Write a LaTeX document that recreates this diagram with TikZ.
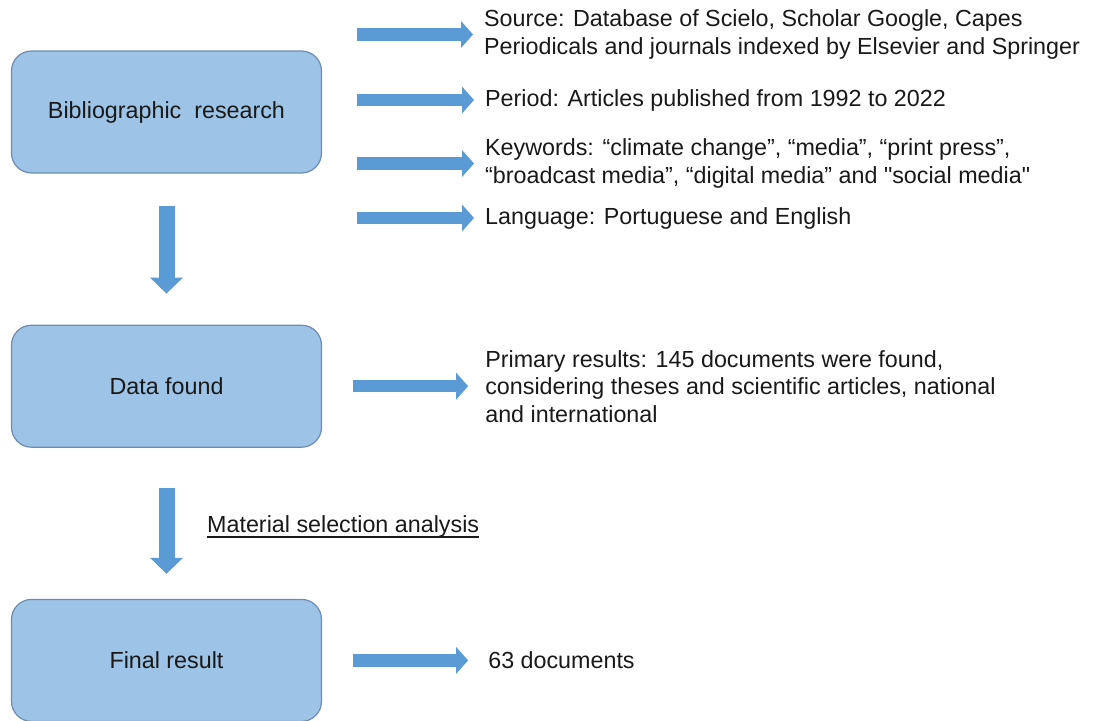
\documentclass[tikz,border=0pt]{standalone}
\usepackage{fontspec}
\setmainfont{Liberation Sans}[Ligatures=TeXOff]
\usetikzlibrary{positioning}
\usetikzlibrary{arrows.meta}

\definecolor{boxfill}{RGB}{157,195,230}
\definecolor{boxline}{RGB}{110,140,175}
\definecolor{arrowblue}{RGB}{91,155,213}

\newcommand{\thickul}[1]{\setbox0\hbox{#1}\rlap{\rule[-5pt]{\wd0}{1.8pt}}\box0}

\begin{document}
\begin{tikzpicture}[x=1pt,y=-1pt,node distance=151pt,
	stage node/.style={rectangle,rounded corners=20pt,draw=boxline,line width=1.2pt,fill=boxfill,minimum width=310pt,minimum height=122pt,text=black!90,font=\fontsize{23.3}{27.5}\selectfont},
	info node/.style={anchor=west,align=left,inner sep=0pt,text=black!90,font=\fontsize{23.3}{27.5}\selectfont},
	right arrow/.style={draw=arrowblue,line width=12.5pt,-{Triangle[length=12pt,width=27pt,line width=0pt]}},
	down arrow/.style={draw=arrowblue,line width=16pt,-{Triangle[length=16pt,width=33pt,line width=0pt]}}]

	%frame of the whole figure
	\useasboundingbox (0,0) rectangle (1097,720);

	%the three stages on the left
	\begin{scope}
		\node[stage node] (bib) at (166.5,112) {Bibliographic\ \ research};
		\node[stage node] (found) [below=of bib] {Data found};
		\node[stage node] (final) [below=of found] {Final result};
	\end{scope}

	%what each stage is made of
	\begin{scope}
		\node[info node] (source) at (484,34.5) {Source: Database of Scielo, Scholar Google, Capes\\Periodicals and journals indexed by Elsevier and Springer};
		\node[info node] (period) at (485,100) {Period: Articles published from 1992 to 2022};
		\node[info node] (keywords) at (485,163.5) {Keywords: “climate change”, “media”, “print press”,\\“broadcast media”, “digital media” and "social media"};
		\node[info node] (language) at (485,218) {Language: Portuguese and English};
		\node[info node] (primary) [right=163pt of found] {Primary results: 145 documents were found,\\considering theses and scientific articles, national\\and international};
		\node[info node] (docs) [right=166pt of final] {63 documents};
		\node[info node] (selection) at (207,527) {\thickul{Material selection analysis}};
	\end{scope}

	%block arrows
	\begin{scope}
		\coordinate (tail) at (357,0);
		\coordinate (tail2) at (353,0);
		\draw[right arrow, shorten >=11pt] (source.west -| tail) -- (source.west);
		\draw[right arrow, shorten >=11pt] (period.west -| tail) -- (period.west);
		\draw[right arrow, shorten >=11pt] (keywords.west -| tail) -- (keywords.west);
		\draw[right arrow, shorten >=11pt] (language.west -| tail) -- (language.west);
		\draw[right arrow, shorten >=17pt] (primary.west -| tail2) -- (primary.west);
		\draw[right arrow, shorten >=20pt] (docs.west -| tail2) -- (docs.west);

		\draw[down arrow, shorten <=32pt, shorten >=31pt] (bib) -- (found);
		\draw[down arrow, shorten <=40pt, shorten >=25pt] (found) -- (final);
	\end{scope}
\end{tikzpicture}
\end{document}
